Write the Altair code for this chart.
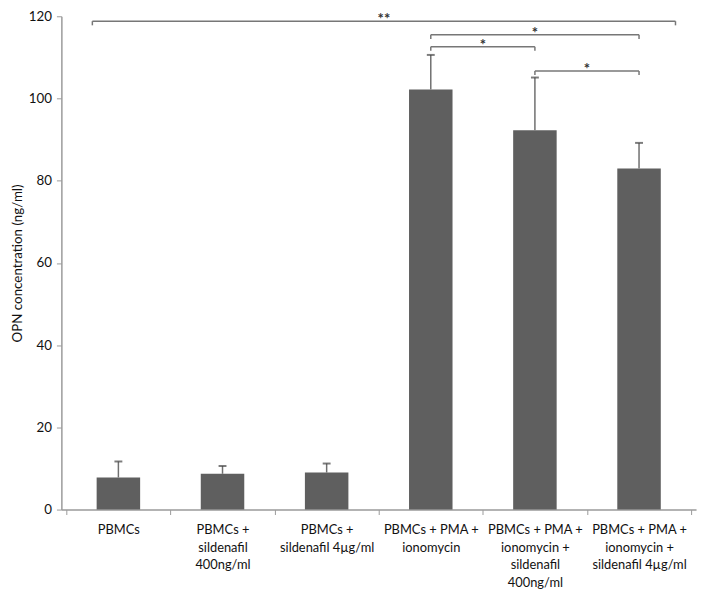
import json
import altair as alt
import pandas as pd

# ---- data ----
categories = [
    "PBMCs",
    "PBMCs +|sildenafil|400ng/ml",
    "PBMCs +|sildenafil 4µg/ml",
    "PBMCs + PMA +|ionomycin",
    "PBMCs + PMA +|ionomycin +|sildenafil|400ng/ml",
    "PBMCs + PMA +|ionomycin +|sildenafil 4µg/ml",
]
positions = [1, 2, 3, 4, 5, 6]
means = [7.8, 8.7, 9.0, 102.2, 92.3, 83.0]
upper = [11.7, 10.6, 11.2, 110.6, 105.1, 89.2]

# significance brackets (x in category units)
br_start = [0.75, 4.0, 4.0, 5.0]
br_end = [6.35, 6.0, 5.0, 6.0]
br_level = [118.8, 115.5, 112.6, 106.7]
br_label = ["**", "*", "*", "*"]
br_drop = 1.0

FONT = "Lato"
GRAY = "#9a9a9a"
BAR = "#5f5f5f"
ERR = "#6f6f6f"

bars_df = pd.DataFrame({"pos": positions, "mean": means, "upper": upper})
br_df = pd.DataFrame({"x1": br_start, "x2": br_end, "y": br_level, "lab": br_label})
br_df["xm"] = (br_df["x1"] + br_df["x2"]) / 2
br_df["ylow"] = br_df["y"] - br_drop

label_expr = (
    "datum.value % 1 != 0 ? '' : split("
    + json.dumps(categories, ensure_ascii=False)
    + "[datum.value - 1], '|')"
)

xscale = alt.Scale(domain=[0.5, 6.5], nice=False, zero=False)
yscale = alt.Scale(domain=[0, 120], nice=False)

xaxis = alt.Axis(
    values=[0.5 + 0.5 * i for i in range(13)],
    labelExpr=label_expr,
    title=None,
    grid=False,
    labelAngle=0,
    labelOverlap=False,
    labelFlush=False,
    labelFont=FONT,
    labelFontSize=13,
    labelColor="#111111",
    labelLineHeight=18,
    labelBaseline="top",
    labelPadding=9,
    tickSize=5,
    tickColor={"condition": {"test": "datum.value % 1 == 0", "value": "transparent"}, "value": GRAY},
    domainColor=GRAY,
    domainWidth=1.5,
)
yaxis = alt.Axis(
    values=[0, 20, 40, 60, 80, 100, 120],
    title="OPN concentration (ng/ml)",
    grid=False,
    labelFont=FONT,
    labelFontSize=13.5,
    labelColor="#111111",
    labelPadding=5,
    titleFont=FONT,
    titleFontSize=13.5,
    titleFontWeight="normal",
    titleColor="#111111",
    titlePadding=4,
    tickSize=5,
    tickColor=GRAY,
    domainColor=GRAY,
    domainWidth=1.5,
)

base = alt.Chart(bars_df)
bars = base.mark_bar(size=44, color=BAR).encode(
    x=alt.X("pos:Q", scale=xscale, axis=xaxis),
    y=alt.Y("mean:Q", scale=yscale, axis=yaxis),
)
err = base.mark_rule(color=ERR, strokeWidth=1.5).encode(
    x="pos:Q", y="mean:Q", y2="upper:Q"
)
caps = base.mark_tick(orient="horizontal", size=8, thickness=2, color="#444444").encode(
    x="pos:Q", y="upper:Q"
)

bb = alt.Chart(br_df)
br_h = bb.mark_rule(color="#777777", strokeWidth=1.5).encode(
    x="x1:Q", x2="x2:Q", y="y:Q"
)
br_l = bb.mark_rule(color="#777777", strokeWidth=1.5).encode(
    x="x1:Q", y="y:Q", y2="ylow:Q"
)
br_r = bb.mark_rule(color="#777777", strokeWidth=1.5).encode(
    x="x2:Q", y="y:Q", y2="ylow:Q"
)
stars = bb.mark_text(font=FONT, fontSize=15, fontWeight="bold", color="#333333",
                     baseline="middle", dy=-2).encode(
    x="xm:Q", y="y:Q", text="lab:N"
)

chart = (
    alt.layer(bars, err, caps, br_h, br_l, br_r, stars)
    .properties(
        width=642,
        height=499,
        autosize=alt.AutoSizeParams(type="none"),
        padding={"left": 54, "top": 5, "right": 4, "bottom": 80},
    )
    .configure_view(stroke=None)
)

chart.save("out.html", embed_options={"renderer": "svg", "actions": False})
